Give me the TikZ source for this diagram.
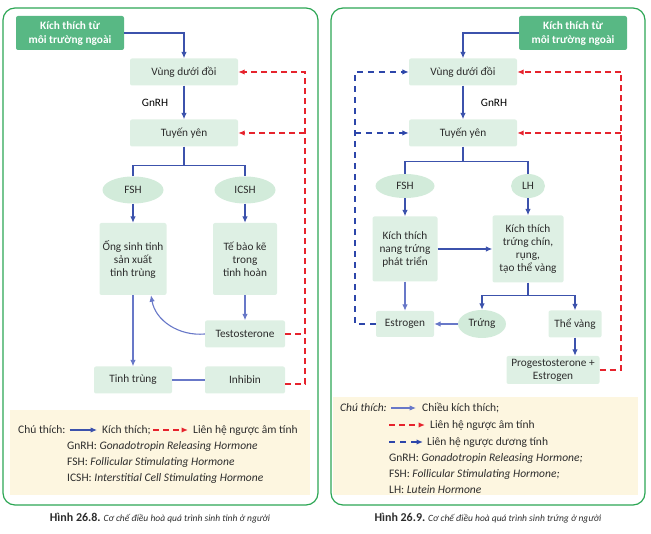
\documentclass[tikz,border=0pt]{standalone}
\usepackage{fontspec}
\setmainfont{Carlito}
\usetikzlibrary{arrows.meta, positioning, shapes.geometric}
\definecolor{frameGreen}{RGB}{44,166,84}
\definecolor{stimGreen}{RGB}{88,184,132}
\definecolor{boxGreen}{RGB}{222,240,228}
\definecolor{ellGreen}{RGB}{210,235,218}
\definecolor{legendYellow}{RGB}{253,246,224}
\definecolor{arrowBlue}{RGB}{60,82,172}
\definecolor{softBlue}{RGB}{104,120,200}
\definecolor{fbBlue}{RGB}{45,70,170}
\definecolor{fbRed}{RGB}{230,35,45}
\definecolor{inkGray}{RGB}{45,45,45}

\begin{document}
\begin{tikzpicture} [x=1pt, y=-1pt, node distance=61pt and 112pt, on grid, font=\fontsize{11.3}{13}\selectfont,
	box/.style={fill=boxGreen, text=inkGray, minimum width=108pt, minimum height=27pt, inner sep=2pt, align=center, rounded corners=2pt},
	stim/.style={fill=stimGreen, text=white, font=\fontsize{11.3}{14}\selectfont\bfseries, minimum width=108pt, minimum height=34pt, align=center, rounded corners=2pt},
	hormone/.style={ellipse, fill=ellGreen, text=inkGray, minimum width=61pt, minimum height=27pt, inner sep=0pt},
	arr/.style={draw=arrowBlue, line width=1.1pt, -{Latex[length=6.5pt,width=5.5pt]}},
	soft/.style={draw=softBlue},
	link/.style={draw=arrowBlue, line width=1.1pt},
	negfb/.style={draw=fbRed, line width=1.5pt, dash pattern=on 6pt off 4pt},
	posfb/.style={draw=fbBlue, line width=1.5pt, dash pattern=on 6pt off 5pt},
	tip/.style={-{Latex[length=6.5pt,width=5.5pt]}},
	frame/.style={draw=frameGreen, line width=1.2pt, rounded corners=12pt},
	key/.style={anchor=west, inner sep=0pt, text=inkGray, font=\fontsize{11.5}{13}\selectfont},
	caption/.style={text=inkGray, font=\fontsize{9.5}{11}\selectfont}]
	\useasboundingbox (0,0) rectangle (651,534);
	\fill[legendYellow] (10,410) rectangle (310,495);
	\fill[legendYellow] (333,397) rectangle (638,495);
	\draw[frame] (3,8) rectangle (318,505);
	\draw[frame] (331,8) rectangle (645,505);

	\node[stim] (stimL) at (70,33) {Kích thích từ\\môi trường ngoài};
	\node[box] (hypoL) at (184,72) {Vùng dưới đồi};
	\node[box] (pitL) [below=of hypoL] {Tuyến yên};
	\node[hormone] (fshL) at (133,190) {FSH};
	\node[hormone] (icshL) [right=of fshL] {ICSH};
	\node[box, minimum width=67pt, minimum height=72pt] (tubeL) [below=69pt of fshL] {Ống sinh tinh\\sản xuất\\tinh trùng};
	\node[box, minimum width=64pt, minimum height=72pt] (leydigL) [below=69pt of icshL] {Tế bào kẽ\\trong\\tinh hoàn};
	\node[box, minimum width=80pt] (testoL) [below=75pt of leydigL] {Testosterone};
	\node[box, minimum width=78pt] (spermL) [below=121pt of tubeL] {Tinh trùng};
	\node[box, minimum width=80pt] (inhibL) [below=46pt of testoL] {Inhibin};
	\coordinate[below=18.5pt of pitL.south] (splitL);
	\coordinate[right=67pt of hypoL.east] (fbL);

	\draw[arr] (stimL.east) -| (hypoL.north);
	\draw[arr] (hypoL) -- node[left=12pt] {GnRH} (pitL);
	\draw[link] (pitL.south) -- (splitL);
	\draw[link] (fshL.north) |- (splitL) -| (icshL.north);
	\draw[arr] (fshL) -- (tubeL);
	\draw[arr] (icshL) -- (leydigL);
	\draw[arr, soft] (leydigL) -- (testoL);
	\draw[arr, soft] (testoL.west) to[out=185, in=-80] ([xshift=18pt]tubeL.south);
	\draw[arr, soft] (tubeL) -- (spermL);
	\draw[link, soft] (spermL) -- (inhibL);
	\draw[negfb] (testoL.east) -- (testoL.east -| fbL);
	\draw[negfb, tip] ([yshift=-4pt]inhibL.east) -| (fbL) -- (hypoL.east);
	\draw[negfb, tip] (pitL.east -| fbL) -- (pitL.east);

	\node[stim] (stimR) at (573,33) {Kích thích từ\\môi trường ngoài};
	\node[box] (hypoR) at (463,72) {Vùng dưới đồi};
	\node[box] (pitR) [below=of hypoR] {Tuyến yên};
	\node[hormone, minimum width=59pt, minimum height=24pt] (fshR) at (405,186) {FSH};
	\node[hormone, minimum width=34pt, minimum height=24pt] (lhR) [right=123pt of fshR] {LH};
	\node[box, minimum width=65pt, minimum height=65pt] (follR) at (405,249) {Kích thích\\nang trứng\\phát triển};
	\node[box, minimum width=71pt, minimum height=67pt] (ovulR) [right=123pt of follR] {Kích thích\\trứng chín,\\rụng,\\tạo thể vàng};
	\node[box, minimum width=58pt, minimum height=26pt] (estroR) [below=75pt of follR] {Estrogen};
	\node[hormone, minimum width=48pt, minimum height=28pt] (eggR) [right=77pt of estroR] {Trứng};
	\node[box, minimum width=53pt] (theR) [right=93pt of eggR] {Thể vàng};
	\node[box, minimum width=93pt, minimum height=28pt] (progR) at (553,370) {Progestosterone +\\Estrogen};
	\coordinate[below=15pt of pitR.south] (splitR);
	\coordinate[below=13pt of ovulR.south] (splitR2);
	\coordinate[left=54pt of hypoR.west] (fbR);
	\coordinate[right=104pt of hypoR.east] (fbR2);

	\draw[arr] (stimR.west) -| (hypoR.north);
	\draw[arr] (hypoR) -- node[right=14pt] {GnRH} (pitR);
	\draw[link] (pitR.south) -- (splitR);
	\draw[link] (fshR.north) |- (splitR) -| (lhR.north);
	\draw[arr] (fshR) -- (follR);
	\draw[arr] (lhR) -- (ovulR);
	\draw[arr] (follR) -- (ovulR);
	\draw[arr, soft] (follR) -- (estroR);
	\draw[link] (ovulR.south) -- (splitR2);
	\draw[arr] (splitR2) -| (eggR.north);
	\draw[arr] (splitR2) -| (theR.north);
	\draw[arr, soft] (eggR) -- (estroR);
	\draw[arr] (theR) -- (theR |- progR.north);
	\draw[posfb, tip] (estroR.west) -| (fbR) -- (hypoR.west);
	\draw[posfb, tip] (pitR.west -| fbR) -- (pitR.west);
	\draw[negfb, tip] (progR.east) -| (fbR2) -- (hypoR.east);
	\draw[negfb, tip] (pitR.east -| fbR2) -- (pitR.east);

	\node[key] (keyL) at (18,430) {Chú thích:};
	\node[key] (kichL) at (102,430) {Kích thích;};
	\node[key] (negL) at (193,430) {Liên hệ ngược âm tính};
	\draw[arr] ([xshift=4pt]keyL.east) -- ([xshift=-5pt]kichL.west);
	\draw[negfb, tip] ([xshift=2pt]kichL.east) -- ([xshift=-5pt]negL.west);
	\node[key] (gnrhL) at (67,446) {GnRH: \textit{Gonadotropin Releasing Hormone}};
	\node[key] (fshKeyL) at (67,462) {FSH: \textit{Follicular Stimulating Hormone}};
	\node[key] (icshKeyL) at (67,478) {ICSH: \textit{Interstitial Cell Stimulating Hormone}};

	\node[key] (keyR) at (340,408) {\textit{Chú thích:}};
	\node[key] (chieuR) at (422,408) {Chiều kích thích;};
	\node[key] (negR) at (430,425) {Liên hệ ngược âm tính};
	\node[key] (posR) at (427,442) {Liên hệ ngược dương tính};
	\coordinate (negStart) at (389,425);
	\coordinate (posStart) at (389,442);
	\draw[arr, soft] ([xshift=4pt]keyR.east) -- ([xshift=-6pt]chieuR.west);
	\draw[negfb, tip] (negStart) -- ([xshift=-5pt]negR.west);
	\draw[posfb, tip] (posStart) -- ([xshift=-4pt]posR.west);
	\node[key] (gnrhR) at (389,458) {GnRH: \textit{Gonadotropin Releasing Hormone;}};
	\node[key] (fshKeyR) at (389,474) {FSH: \textit{Follicular Stimulating Hormone;}};
	\node[key] (lhKeyR) at (389,490) {LH: \textit{Lutein Hormone}};

	\node[caption] (capL) at (160,518) {\textbf{\large Hình 26.8.} \textit{Cơ chế điều hoà quá trình sinh tinh ở người}};
	\node[caption] (capR) at (488,518) {\textbf{\large Hình 26.9.} \textit{Cơ chế điều hoà quá trình sinh trứng ở người}};
\end{tikzpicture}
\end{document}
